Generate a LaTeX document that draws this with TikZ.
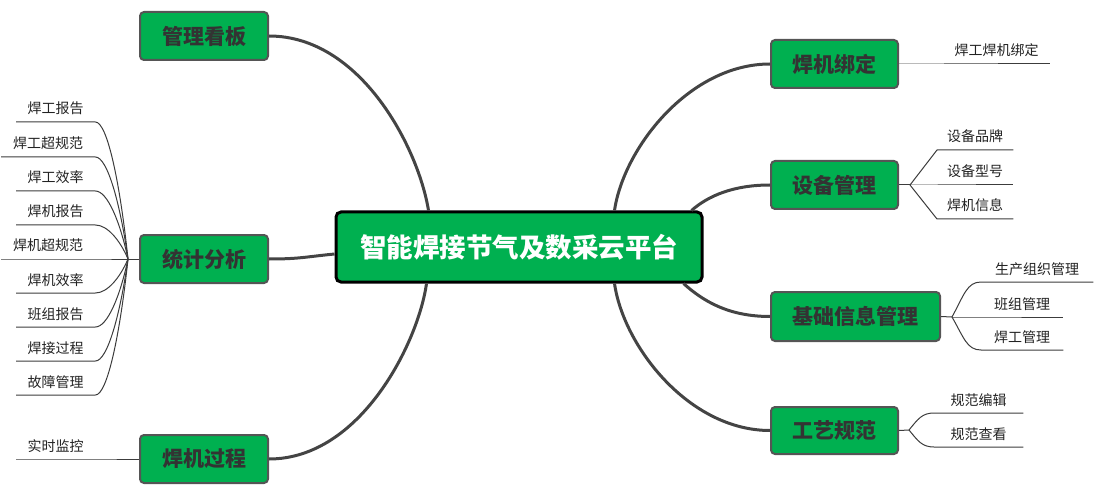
\documentclass[tikz,border=0pt]{standalone}
\usepackage{fontspec}
\setmainfont{Noto Sans CJK SC}
\usetikzlibrary{calc}
\definecolor{boxgreen}{RGB}{0,176,80}
\definecolor{boxborder}{RGB}{85,85,85}
\definecolor{boxtext}{RGB}{51,51,51}
\definecolor{mainline}{RGB}{68,68,68}
\definecolor{leafline}{RGB}{60,60,60}
\definecolor{leaftext}{RGB}{34,34,34}
\tikzset{
  topicbox/.style={draw=boxborder, line width=2pt, fill=boxgreen, rounded corners=4pt,
    minimum width=128pt, minimum height=48pt, inner sep=0pt,
    font=\fontsize{21}{24}\selectfont\bfseries, text=boxtext},
  centralbox/.style={draw=black, line width=3pt, fill=boxgreen, rounded corners=5pt,
    minimum width=366pt, minimum height=70pt, inner sep=0pt,
    font=\fontsize{26.5}{30}\selectfont\bfseries, text=white},
  leaf/.style={inner sep=0pt, minimum width=#1, minimum height=0pt, text height=14pt,
    text depth=7.8pt, anchor=south west, font=\fontsize{14}{16}\selectfont, text=leaftext},
  mainconn/.style={draw=mainline, line width=3pt},
  leafconn/.style={draw=leafline, line width=1pt}
}
\begin{document}
\begin{tikzpicture}[x=1pt,y=-1pt]
\useasboundingbox (0,0) rectangle (1100,489);

% central
\node[centralbox] (c) at (519,247) {智能焊接节气及数采云平台};

% left topics
\node[topicbox] (manage) at (204,36) {管理看板};
\node[topicbox] (stat) at (204,259) {统计分析};
\node[topicbox] (weld) at (204,459) {焊机过程};

% right topics
\node[topicbox, minimum width=127pt] (bind) at (834.5,64) {焊机绑定};
\node[topicbox, minimum width=127pt] (dev) at (834.5,185) {设备管理};
\node[topicbox, minimum width=169pt, minimum height=49pt] (base) at (855.5,316.5) {基础信息管理};
\node[topicbox, minimum width=127pt, minimum height=47pt] (proc) at (834.5,430.5) {工艺规范};

% main connectors
\draw[mainconn] (manage.east) .. controls +(92,0) and +(-10,-62) .. ($(c.north west)+(94,0)$);
\draw[mainconn] (stat.east) .. controls +(30,0) and +(-30,3) .. ($(c.west)+(0,7)$);
\draw[mainconn] (weld.east) .. controls +(92,0) and +(-8,58) .. ($(c.south west)+(92,0)$);
\draw[mainconn] (bind.west) .. controls +(-81,0) and +(9,-62) .. ($(c.north west)+(280,0)$);
\draw[mainconn] (dev.west) .. controls +(-36,0) and +(17,-15) .. ($(c.north west)+(357,0)$);
\draw[mainconn] (base.west) .. controls +(-41,0) and +(20,18) .. ($(c.south west)+(349,0)$);
\draw[mainconn] (proc.west) .. controls +(-81,0) and +(9,63) .. ($(c.south west)+(280,0)$);

% left leaves of 统计分析
\coordinate (jS) at (128,259);
\draw[leafconn] (stat.west) -- (jS);
\node[leaf=79pt] (s1) at (16,122) {焊工报告};
\node[leaf=94pt] (s2) at (1,157) {焊工超规范};
\node[leaf=79pt] (s3) at (16,191) {焊工效率};
\node[leaf=79pt] (s4) at (16,225) {焊机报告};
\node[leaf=94pt] (s5) at (1,259) {焊机超规范};
\node[leaf=79pt] (s6) at (16,293) {焊机效率};
\node[leaf=79pt] (s7) at (16,327) {班组报告};
\node[leaf=79pt] (s8) at (16,361) {焊接过程};
\node[leaf=79pt] (s9) at (16,395) {故障管理};
\foreach \n in {s1,s2,s3,s4,s6,s7,s8,s9}{
  \draw[leafconn] (\n.south west) -- (\n.south east)
    .. controls +(12,0) and ($($(jS)!0.55!(\n.south east)$)+(10,0)$) .. (jS);
}
\draw[leafconn] (s5.south west) -- (s5.south east) -- (jS);

% 焊机过程 leaf
\node[leaf=79pt] (w1) at (16,459) {实时监控};
\draw[leafconn] (w1.south west) -- (w1.south east) -- (weld.west);

% 焊机绑定 leaf
\node[leaf=107pt] (b1) at (943,64) {焊工焊机绑定};
\draw[leafconn] (bind.east) -- (b1.south west) -- (b1.south east);

% 设备管理 leaves
\coordinate (jD) at (910,185);
\draw[leafconn] (dev.east) -- (jD);
\node[leaf=76pt] (d1) at (937,150) {设备品牌};
\node[leaf=76pt] (d2) at (937,185) {设备型号};
\node[leaf=76pt] (d3) at (937,219) {焊机信息};
\draw[leafconn] (jD) -- (d1.south west) -- (d1.south east);
\draw[leafconn] (jD) -- (d2.south west) -- (d2.south east);
\draw[leafconn] (jD) -- (d3.south west) -- (d3.south east);

% 基础信息管理 leaves
\coordinate (jB) at (952,317);
\draw[leafconn] (base.east) -- (jB);
\node[leaf=112pt] (e1) at (981,282) {生产组织管理};
\node[leaf=82pt] (e2) at (981,317) {班组管理};
\node[leaf=82pt] (e3) at (981,350) {焊工管理};
\draw[leafconn] (jB) .. controls +(12,-22) and +(-14,0) .. (e1.south west) -- (e1.south east);
\draw[leafconn] (jB) -- (e2.south west) -- (e2.south east);
\draw[leafconn] (jB) .. controls +(12,21) and +(-14,0) .. (e3.south west) -- (e3.south east);

% 工艺规范 leaves
\coordinate (jP) at (909,430);
\draw[leafconn] (proc.east) -- (jP);
\node[leaf=89pt] (p1) at (934,413) {规范编辑};
\node[leaf=89pt] (p2) at (934,447) {规范查看};
\draw[leafconn] (jP) .. controls +(9,-11) and +(-12,0) .. (p1.south west) -- (p1.south east);
\draw[leafconn] (jP) .. controls +(9,11) and +(-12,0) .. (p2.south west) -- (p2.south east);
\end{tikzpicture}
\end{document}
